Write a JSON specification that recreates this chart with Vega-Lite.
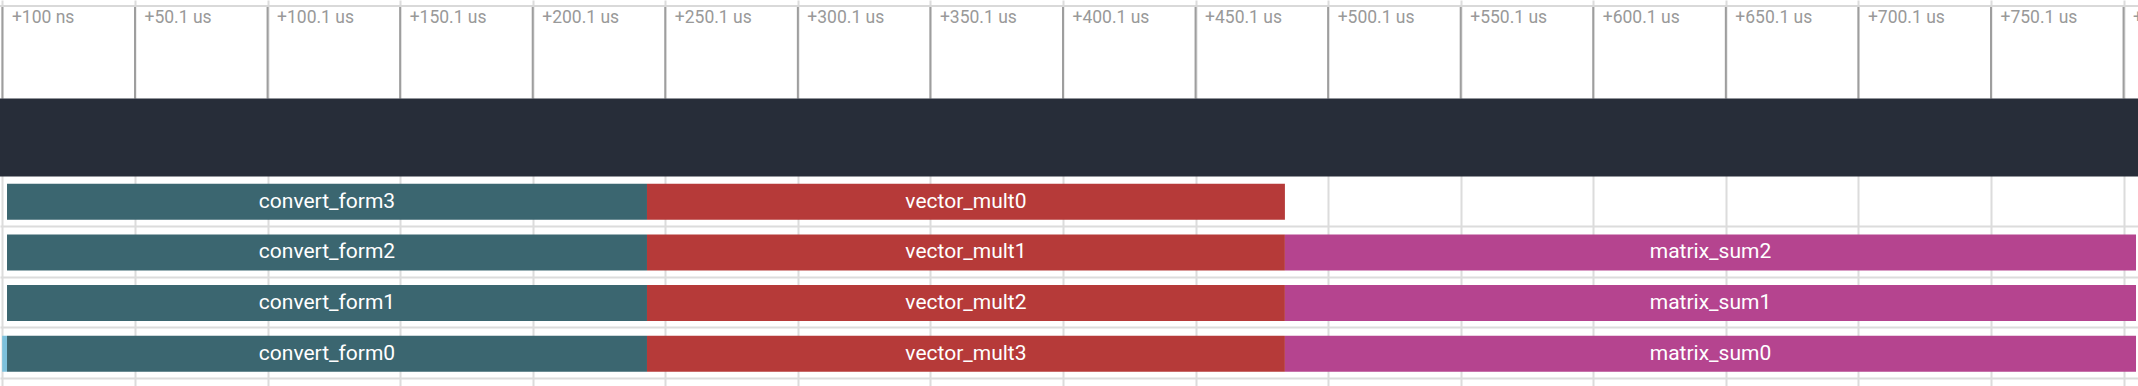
{
  "$schema": "https://vega.github.io/schema/vega-lite/v6.json",
  "width": 2138,
  "height": 386,
  "autosize": "none",
  "padding": 0,
  "background": "white",
  "config": {"view": {"stroke": null}},
  "datasets": {
    "spans": [
      {"lane": 0, "name": "convert_form3", "kind": "convert", "start": 1.83, "end": 243.2},
      {"lane": 0, "name": "vector_mult0", "kind": "vector", "start": 243.2, "end": 483.8},
      {"lane": 1, "name": "convert_form2", "kind": "convert", "start": 1.83, "end": 243.2},
      {"lane": 1, "name": "vector_mult1", "kind": "vector", "start": 243.2, "end": 483.8},
      {"lane": 1, "name": "matrix_sum2", "kind": "matrix", "start": 483.8, "end": 804.8},
      {"lane": 2, "name": "convert_form1", "kind": "convert", "start": 1.83, "end": 243.2},
      {"lane": 2, "name": "vector_mult2", "kind": "vector", "start": 243.2, "end": 483.8},
      {"lane": 2, "name": "matrix_sum1", "kind": "matrix", "start": 483.8, "end": 804.8},
      {"lane": 3, "name": "convert_form0", "kind": "convert", "start": 1.83, "end": 243.2},
      {"lane": 3, "name": "vector_mult3", "kind": "vector", "start": 243.2, "end": 483.8},
      {"lane": 3, "name": "matrix_sum0", "kind": "matrix", "start": 483.8, "end": 804.8},
      {"lane": 3, "name": "", "kind": "marker", "start": 0, "end": 1.83}
    ],
    "ticks": [
      {"t": 0.1}, {"t": 50.1}, {"t": 100.1}, {"t": 150.1}, {"t": 200.1}, {"t": 250.1},
      {"t": 300.1}, {"t": 350.1}, {"t": 400.1}, {"t": 450.1}, {"t": 500.1}, {"t": 550.1},
      {"t": 600.1}, {"t": 650.1}, {"t": 700.1}, {"t": 750.1}, {"t": 800.1}
    ]
  },
  "layer": [
    {
      "data": {"name": "ticks"},
      "mark": {"type": "rule", "color": "#9e9e9e", "strokeWidth": 2},
      "encoding": {
        "x": {
          "field": "t", "type": "quantitative", "title": null,
          "scale": {"domain": [-0.815, 805.55], "nice": false, "zero": false},
          "axis": {
            "orient": "top",
            "values": [0.1, 50.1, 100.1, 150.1, 200.1, 250.1, 300.1, 350.1, 400.1, 450.1, 500.1, 550.1, 600.1, 650.1, 700.1, 750.1, 800.1],
            "labelExpr": "datum.value < 1 ? '+100 ns' : '+' + format(datum.value, '.1f') + ' us'",
            "grid": true, "gridColor": "#dcdcdc", "gridWidth": 2, "gridOpacity": 1,
            "ticks": false, "domain": false,
            "labelAlign": "left", "labelBaseline": "alphabetic",
            "labelPadding": -22, "labelOffset": 9,
            "labelFlush": false, "labelOverlap": false, "labelBound": false,
            "labelFont": "Roboto", "labelFontSize": 17.5, "labelColor": "#999999",
            "zindex": 0
          }
        },
        "y": {
          "datum": -3.885, "type": "quantitative", "title": null,
          "scale": {"domain": [-3.885, 3.538], "reverse": true, "nice": false, "zero": false},
          "axis": {
            "values": [0.48, 1.48, 2.48, 3.48],
            "grid": true, "gridColor": "#dcdcdc", "gridWidth": 2, "gridOpacity": 1,
            "labels": false, "ticks": false, "domain": false, "zindex": 0
          }
        },
        "y2": {"datum": -2.039}
      }
    },
    {
      "data": {"values": [{}]},
      "mark": {"type": "rule", "color": "#d9d9d9", "strokeWidth": 2},
      "encoding": {"y": {"datum": -3.866, "type": "quantitative", "title": null}}
    },
    {
      "data": {"values": [{}]},
      "mark": {"type": "rect", "color": "#272d39"},
      "encoding": {
        "y": {"datum": -2.039, "type": "quantitative", "title": null},
        "y2": {"datum": -0.5}
      }
    },
    {
      "data": {"name": "spans"},
      "mark": {"type": "bar", "size": 36},
      "encoding": {
        "x": {"field": "start", "type": "quantitative", "title": null},
        "x2": {"field": "end"},
        "y": {"field": "lane", "type": "quantitative", "title": null},
        "color": {
          "field": "kind", "type": "nominal", "legend": null,
          "scale": {"domain": ["convert", "vector", "matrix", "marker"], "range": ["#3b6670", "#b63a39", "#b5448f", "#7dc1dc"]}
        }
      }
    },
    {
      "data": {"name": "spans"},
      "transform": [
        {"filter": "datum.name != ''"},
        {"calculate": "(datum.start + datum.end) / 2", "as": "mid"}
      ],
      "mark": {"type": "text", "font": "Roboto", "fontSize": 21, "color": "white", "align": "center", "baseline": "middle"},
      "encoding": {
        "x": {"field": "mid", "type": "quantitative", "title": null},
        "y": {"field": "lane", "type": "quantitative", "title": null},
        "text": {"field": "name"}
      }
    }
  ]
}
